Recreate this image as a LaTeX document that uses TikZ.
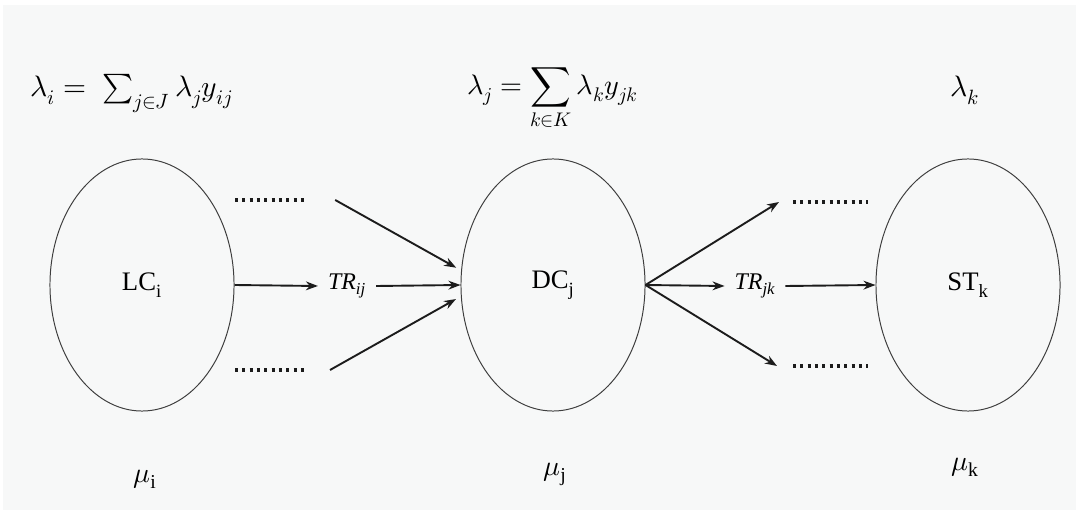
\documentclass[tikz,border=0pt]{standalone}
\usepackage{fontspec}
\usepackage{unicode-math}
\setmainfont{Liberation Serif}
\setmathfont{Latin Modern Math}
\usepackage{tikz}
\usetikzlibrary{positioning,arrows.meta,shapes.geometric}
\definecolor{ink}{HTML}{1c1c1c}
\definecolor{paper}{HTML}{F7F8F8}
\newcommand{\fsz}[1]{\fontsize{#1}{#1}\selectfont}

\begin{document}
\begin{tikzpicture}[x=0.025cm,y=-0.025cm,
  site/.style={ellipse,draw=ink!85,line width=0.7pt,minimum width=4.6cm,minimum height=6.3cm,inner sep=0pt,font=\fsz{19}},
  arr/.style={-{Stealth[length=3mm,width=2.2mm]},line width=1.35pt,draw=ink},
  dots/.style={line width=2.4pt,dash pattern=on 2.2pt off 3pt,draw=ink},
  rate/.style={inner sep=0pt,font=\fsz{20}},
  flow/.style={inner xsep=7pt,inner ysep=0pt,font=\fsz{17}\itshape}]
  \fill[white] (0,0) rectangle (1076,510);
  \fill[paper] (3,5) rectangle (1076,510);
  % the three sites
  \node[site] (lc) at (142,285) {LC\textsubscript{i}};
  \node[site] (dc) at (553,285) {DC\textsubscript{j}};
  \node[site] (st) at (968,285) {ST\textsubscript{k}};
  % arrival rates
  \node[rate,anchor=base west,font=\fsz{21}] (lami) at (30,97) {$\lambda_i = \ \sum_{j\in J}\lambda_j y_{ij}$};
  \node[rate,anchor=base west] (lamj) at (467,95) {$\lambda_j = \displaystyle\sum_{k\in K}\lambda_k y_{jk}$};
  \node[rate,anchor=base west,font=\fsz{21}] (lamk) at (950,97) {$\lambda_k$};
  % service rates
  \node[rate,anchor=base] (mui) at (145,482) {$\mu_{\mathrm{i}}$};
  \node[rate,anchor=base] (muj) at (555,475) {$\mu_{\mathrm{j}}$};
  \node[rate,anchor=base] (muk) at (965,470) {$\mu_{\mathrm{k}}$};
  % transport
  \node[flow] (trij) at (347,286) {TR\textsubscript{ij}};
  \node[flow] (trjk) at (755,286) {TR\textsubscript{jk}};
  \draw[arr] (lc.east) -- (trij.west);
  \draw[arr] (trij.east) -- (dc.west);
  \draw[arr] (dc.east) -- (trjk.west);
  \draw[arr] (trjk.east) -- (st.west);
  % other flows
  \draw[dots] (235,200) -- (308,200) coordinate (d1);
  \draw[dots] (235,370) -- (308,370) coordinate (d2);
  \draw[dots] (793,202) coordinate (d3) -- (868,202);
  \draw[dots] (793,366) coordinate (d4) -- (868,366);
  \coordinate[right=0.68cm of d1] (in1);
  \coordinate[right=0.55cm of d2] (in2);
  \coordinate[left=0.35cm of d3] (out1);
  \coordinate[left=0.4cm of d4] (out2);
  \draw[arr,shorten >=4pt] (in1) -- (dc.171);
  \draw[arr,shorten >=4pt] (in2) -- (dc.187);
  \foreach \t in {out1,out2} \draw[arr] (dc.east) -- (\t);
\end{tikzpicture}
\end{document}
